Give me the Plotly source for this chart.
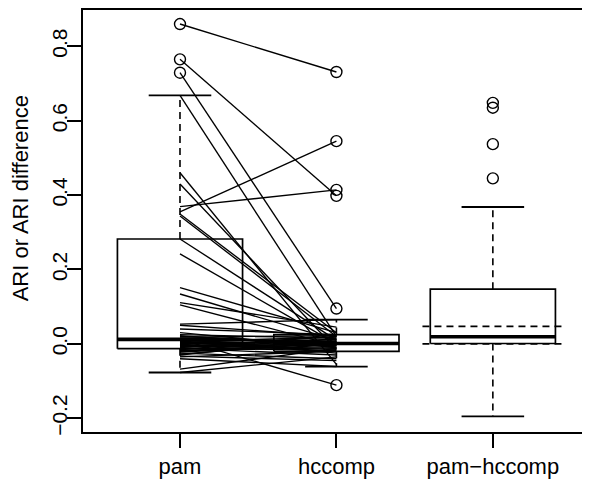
import plotly.graph_objects as go

# ---- data ----
groups = ["pam", "hccomp", "pam−hccomp"]
positions = [1, 2, 3]

# paired ARI values (each pam value linked to its hccomp value)
pam_ari = [0.860, 0.765, 0.729, 0.668, 0.460, 0.430, 0.369, 0.355, 0.349, 0.344,
           0.282, 0.242, 0.151, 0.134, 0.111, 0.105, 0.053, 0.050, 0.040, 0.030,
           0.025, 0.020, 0.015, 0.012, 0.010, 0.008, 0.005, 0.003, 0.000, -0.002,
           -0.005, -0.008, -0.010, -0.012, -0.015, -0.018, -0.020, -0.025, -0.030,
           -0.035, -0.040, -0.068, -0.077,
           0.022, 0.018, 0.013, 0.006, 0.001, -0.004, -0.007, -0.011, -0.016,
           -0.022, -0.028, -0.033]
hccomp_ari = [0.731, 0.398, 0.095, 0.020, -0.055, -0.015, 0.414, 0.545, 0.030, 0.020,
              0.010, 0.000, 0.030, 0.010, 0.045, -0.005, 0.065, 0.020, 0.025, -0.010,
              0.015, 0.000, 0.005, -0.111, 0.010, 0.000, -0.020, 0.005, -0.005, 0.012,
              -0.015, 0.000, 0.020, -0.030, 0.005, -0.010, 0.000, -0.040, 0.015,
              -0.020, -0.061, -0.012, -0.035,
              -0.008, 0.022, -0.025, 0.018, 0.003, -0.012, 0.008, -0.018, 0.025,
              -0.003, 0.006, -0.045]

# box statistics per group (pam, hccomp, pam-hccomp)
box_q1 = [-0.013, -0.020, 0.001]
box_median = [0.012, 0.001, 0.019]
box_q3 = [0.282, 0.025, 0.147]
whisker_low = [-0.077, -0.061, -0.195]
whisker_high = [0.668, 0.065, 0.368]

outliers = [
    [0.860, 0.765, 0.729],
    [0.731, 0.545, 0.414, 0.398, 0.095, -0.111],
    [0.648, 0.635, 0.537, 0.445],
]

# dashed reference lines on the difference box (mean and zero)
diff_ref_lines = [0.047, 0.0]

y_ticks = [-0.2, 0.0, 0.2, 0.4, 0.6, 0.8]
y_tick_labels = ["−0.2", "0.0", "0.2", "0.4", "0.6", "0.8"]
y_title = "ARI or ARI difference"

# ---- styling ----
BOX_HALF = 0.4
CAP_HALF = 0.2
REF_HALF = 0.45
FONT = "Liberation Sans, Arial, Helvetica, sans-serif"

fig = go.Figure()

bx, by, mx, my, wx, wy, cx, cy, ox, oy = ([] for _ in range(10))
for i, p in enumerate(positions):
    bx += [p - BOX_HALF, p + BOX_HALF, p + BOX_HALF, p - BOX_HALF, p - BOX_HALF, None]
    by += [box_q1[i], box_q1[i], box_q3[i], box_q3[i], box_q1[i], None]
    mx += [p - BOX_HALF, p + BOX_HALF, None]
    my += [box_median[i], box_median[i], None]
    wx += [p, p, None, p, p, None]
    wy += [box_q3[i], whisker_high[i], None, box_q1[i], whisker_low[i], None]
    cx += [p - CAP_HALF, p + CAP_HALF, None, p - CAP_HALF, p + CAP_HALF, None]
    cy += [whisker_high[i], whisker_high[i], None, whisker_low[i], whisker_low[i], None]
    for v in outliers[i]:
        ox.append(p)
        oy.append(v)

fig.add_trace(go.Scatter(x=wx, y=wy, mode="lines", line=dict(color="black", width=1.6, dash="7px,5px"),
                         hoverinfo="skip", showlegend=False))
fig.add_trace(go.Scatter(x=bx, y=by, mode="lines", line=dict(color="black", width=1.7),
                         hoverinfo="skip", showlegend=False))
fig.add_trace(go.Scatter(x=cx, y=cy, mode="lines", line=dict(color="black", width=1.8),
                         hoverinfo="skip", showlegend=False))
fig.add_trace(go.Scatter(x=mx, y=my, mode="lines", line=dict(color="black", width=3.6),
                         hoverinfo="skip", showlegend=False))
fig.add_trace(go.Scatter(x=ox, y=oy, mode="markers",
                         marker=dict(symbol="circle-open", size=11, color="black", line=dict(width=1.4)),
                         hoverinfo="skip", showlegend=False))

lx, ly = [], []
for a, b in zip(pam_ari, hccomp_ari):
    lx += [positions[0], positions[1], None]
    ly += [a, b, None]
fig.add_trace(go.Scatter(x=lx, y=ly, mode="lines", line=dict(color="black", width=1.35),
                         hoverinfo="skip", showlegend=False))

rx, ry = [], []
for v in diff_ref_lines:
    rx += [positions[2] - REF_HALF, positions[2] + REF_HALF, None]
    ry += [v, v, None]
fig.add_trace(go.Scatter(x=rx, y=ry, mode="lines", line=dict(color="black", width=1.6, dash="7px,5px"),
                         hoverinfo="skip", showlegend=False))

# the page adds an 8px body margin, so the figure is sized to fill the rest of the window
fig.update_layout(
    width=582, height=471,
    margin=dict(l=75, r=0, t=1, b=44),
    paper_bgcolor="white", plot_bgcolor="white",
    font=dict(family=FONT, color="black"),
    showlegend=False,
    annotations=[dict(
        text=y_title, xref="paper", yref="paper", x=-0.124, y=0.554,
        xanchor="center", yanchor="middle", textangle=-90, showarrow=False,
        font=dict(size=22, family=FONT, color="black"),
    )],
)
fig.update_xaxes(
    range=[0.38, 3.621], tickmode="array", tickvals=positions, ticktext=groups,
    ticks="outside", ticklen=14, tickwidth=1.5, tickcolor="black",
    tickfont=dict(size=22, family=FONT, color="black"),
    showline=True, linecolor="black", linewidth=1.6, mirror=True,
    showgrid=False, zeroline=False, ticklabelstandoff=0,
)
fig.update_yaxes(
    range=[-0.237, 0.8977], tickmode="array", tickvals=y_ticks, ticktext=y_tick_labels,
    ticks="outside", ticklen=14, tickwidth=1.5, tickcolor="black", tickangle=-90,
    tickfont=dict(size=21, family=FONT, color="black"),
    showline=True, linecolor="black", linewidth=1.6, mirror=False,
    showgrid=False, zeroline=False, ticklabelstandoff=-8,
)

fig.write_html("out.html")
